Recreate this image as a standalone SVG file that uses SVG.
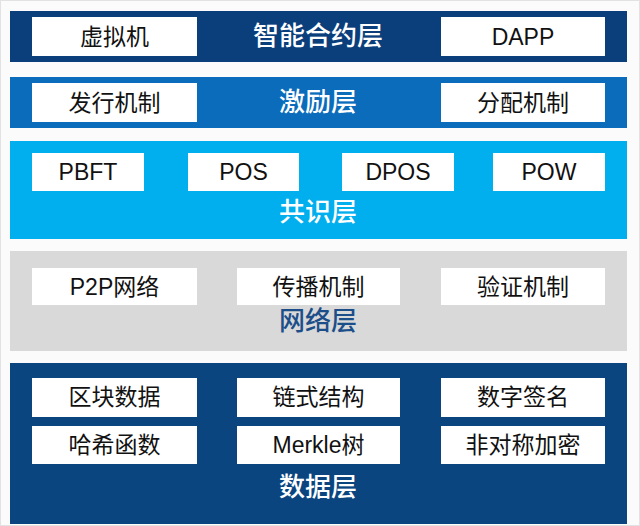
<svg xmlns="http://www.w3.org/2000/svg" width="640" height="526" viewBox="0 0 640 526">
<style>
.box{fill:#ffffff}
.bt{font-family:"Liberation Sans","Noto Sans CJK SC",sans-serif;font-size:23px;fill:#111111;text-anchor:middle;dominant-baseline:central}
.tt{font-family:"Noto Sans CJK SC",sans-serif;font-size:26px;font-weight:500;fill:#ffffff;text-anchor:middle;dominant-baseline:central}
</style>
<rect x="0" y="0" width="640" height="526" fill="#fbfbfb"/>
<rect x="0.5" y="0.5" width="639" height="525" fill="none" stroke="#e2e2e2"/>
<g id="layer-contract">
<rect x="10" y="11" width="617" height="51" fill="#0b3f7b"/>
<rect class="box" x="32" y="17" width="165" height="39"/>
<text class="bt" x="114.5" y="36.5">虚拟机</text>
<rect class="box" x="441" y="17" width="164" height="39"/>
<text class="bt" x="523" y="36.5">DAPP</text>
<text class="tt" x="318" y="33">智能合约层</text>
</g>
<g id="layer-incentive">
<rect x="10" y="77" width="617" height="51" fill="#0b6cbc"/>
<rect class="box" x="32" y="83" width="165" height="39"/>
<text class="bt" x="114.5" y="102.5">发行机制</text>
<rect class="box" x="441" y="83" width="164" height="39"/>
<text class="bt" x="523" y="102.5">分配机制</text>
<text class="tt" x="318" y="99">激励层</text>
</g>
<g id="layer-consensus">
<rect x="10" y="141" width="617" height="98" fill="#01aeee"/>
<rect class="box" x="32" y="153" width="112" height="38"/>
<text class="bt" x="88" y="171.5">PBFT</text>
<rect class="box" x="188" y="153" width="111" height="38"/>
<text class="bt" x="243.5" y="171.5">POS</text>
<rect class="box" x="342" y="153" width="112" height="38"/>
<text class="bt" x="398" y="171.5">DPOS</text>
<rect class="box" x="493" y="153" width="112" height="38"/>
<text class="bt" x="549" y="171.5">POW</text>
<text class="tt" x="318" y="209">共识层</text>
</g>
<g id="layer-network">
<rect x="10" y="251" width="617" height="100" fill="#d9d9d9"/>
<rect class="box" x="32" y="268" width="165" height="37"/>
<text class="bt" x="114.5" y="286.5">P2P网络</text>
<rect class="box" x="237" y="268" width="163" height="37"/>
<text class="bt" x="318.5" y="286.5">传播机制</text>
<rect class="box" x="441" y="268" width="164" height="37"/>
<text class="bt" x="523" y="286.5">验证机制</text>
<text class="tt" x="318" y="318" style="fill:#1c4e8a">网络层</text>
</g>
<g id="layer-data">
<rect x="10" y="363" width="617" height="161" fill="#0b457f"/>
<rect class="box" x="32" y="378" width="165" height="39"/>
<text class="bt" x="114.5" y="397">区块数据</text>
<rect class="box" x="237" y="378" width="163" height="39"/>
<text class="bt" x="318.5" y="397">链式结构</text>
<rect class="box" x="441" y="378" width="164" height="39"/>
<text class="bt" x="523" y="397">数字签名</text>
<rect class="box" x="32" y="426" width="165" height="38"/>
<text class="bt" x="114.5" y="444.5">哈希函数</text>
<rect class="box" x="237" y="426" width="163" height="38"/>
<text class="bt" x="318.5" y="444.5">Merkle树</text>
<rect class="box" x="441" y="426" width="164" height="38"/>
<text class="bt" x="523" y="444.5">非对称加密</text>
<text class="tt" x="318" y="484">数据层</text>
</g>
<g id="connectors"></g>
</svg>
